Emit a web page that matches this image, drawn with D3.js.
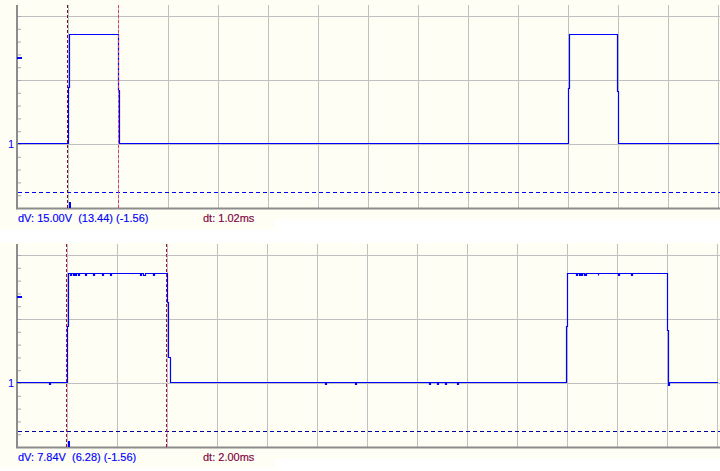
<!DOCTYPE html>
<html>
<head>
<meta charset="utf-8">
<script src="https://cdn.jsdelivr.net/npm/d3@7"></script>
<style>
  body { margin: 0; background: #ffffff; }
  svg { display: block; font-family: "Liberation Sans", Arial, sans-serif; }
  .grid line { stroke: #c0c0c0; }
  .grid path { display: none; }
  .minor line { stroke: #a8a8a8; }
  .minor path { display: none; }
  text.readout { white-space: pre; }
</style>
</head>
<body>
<script>
// time in ms, level in volts
var msPerDiv = 1;
var voltsPerDiv = 2.06;
var spanDivs = 14;

// channel 1 trace, top panel (breakpoints)
var trace1 = [[0, 0.03], [1.00, 0.03], [1.00, 1.83], [1.02, 1.83], [1.02, 3.54],
  [2.00, 3.54], [2.00, 1.74], [2.02, 1.74], [2.02, 0.03],
  [11.00, 0.03], [11.00, 1.80], [11.02, 1.80], [11.02, 3.54],
  [11.98, 3.54], [11.98, 1.72], [12.00, 1.72], [12.00, 0.03], [14.00, 0.03]];

// channel 1 trace, bottom panel (breakpoints)
var trace2 = [[0, 0.03], [1.00, 0.03], [1.00, 1.83], [1.02, 1.83], [1.02, 3.54],
  [3.00, 3.54], [3.00, 2.62], [3.02, 2.62], [3.02, 0.85], [3.06, 0.85], [3.06, 0.03],
  [10.98, 0.03], [10.98, 1.83], [11.00, 1.83], [11.00, 3.54],
  [13.00, 3.54], [13.00, 1.71], [13.02, 1.71], [13.02, -0.06], [13.04, -0.06], [13.04, 0.03], [14.00, 0.03]];

// small glitches on the bottom trace (time in ms)
var dips2 = [0.64, 1.06, 1.11, 1.16, 1.21, 1.35, 1.51, 1.69, 1.86, 2.46, 2.53, 2.71,
  6.16, 6.76, 8.24, 8.40, 8.56, 8.80,
  11.18, 11.23, 11.27, 11.33, 11.37, 11.61, 12.01, 12.29];
var dipDepth = 0.05;

// cursors
var timeCursors = [[0.98, 2.00], [0.98, 2.98]];
var levelCursors = [[13.44, -1.56], [6.28, -1.56]];
var trigTime = [1.02, 1.02];
var trigLevel = [2.77, 2.77];
var dVvalues = [15.00, 7.84];
var dtValues = [1.02, 2.00];
var channelLabel = "1";

var W = 720, H = 471;
var ivory = "#fefef4";

var svg = d3.select("body").append("svg")
  .attr("width", W)
  .attr("height", H);

// panel layout
var panels = [
  { top: 5, zeroY: 144, bottom: 208, left: 18, trace: trace1, dips: [],
    cur1: "#7a0a2a", cur2: "#d04070", hline: "#0000ff" },
  { top: 244, zeroY: 383, bottom: 447, left: 17, trace: trace2, dips: dips2,
    cur1: "#a0104a", cur2: "#a0104a", hline: "#0000a0" }
];

// insert little notches where the trace glitches
function withDips(trace, dips) {
  var out = [];
  trace.forEach(function (p, i) {
    out.push(p);
    var n = trace[i + 1];
    if (!n || n[1] !== p[1] || n[0] === p[0]) return;
    dips.filter(function (t) { return t > p[0] && t < n[0]; }).forEach(function (t) {
      var down = p[1] - dipDepth;
      out.push([t, p[1]], [t, down], [t + 0.02, down], [t + 0.02, p[1]]);
    });
  });
  return out;
}

panels.forEach(function (p, i) {
  var g = svg.append("g");

  // backgrounds
  g.append("rect")
    .attr("x", 0).attr("y", i === 0 ? 0 : p.top - 1)
    .attr("width", W).attr("height", p.bottom - (i === 0 ? 0 : p.top - 1) + 12)
    .attr("fill", ivory);
  g.append("rect")
    .attr("x", 0).attr("y", p.bottom + 12)
    .attr("width", 275).attr("height", 9)
    .attr("fill", ivory);

  var x = d3.scaleLinear().domain([0, spanDivs * msPerDiv]).range([p.left, p.left + spanDivs * 50]);
  var y = d3.scaleLinear().domain([0, voltsPerDiv]).range([p.zeroY, p.zeroY - 64]);
  var vMin = y.invert(p.bottom), vMax = y.invert(p.top);

  // vertical grid
  var gridT = d3.range(1, spanDivs + 1).map(function (k) { return k * msPerDiv; });
  g.append("g")
    .attr("class", "grid")
    .attr("transform", "translate(0," + p.top + ")")
    .call(d3.axisBottom(x).tickValues(gridT).tickSize(p.bottom - p.top).tickFormat(""));

  // horizontal grid
  var gridV = [-1, 0, 1, 2].map(function (k) { return k * voltsPerDiv; })
    .filter(function (v) { return v > vMin && v < vMax; });
  g.append("g")
    .attr("class", "grid")
    .attr("transform", "translate(" + W + ",0)")
    .call(d3.axisLeft(y).tickValues(gridV).tickSize(W - p.left).tickFormat(""));

  // minor ticks on the left edge
  var minorV = d3.range(-10, 20).map(function (k) { return k * voltsPerDiv / 5; })
    .filter(function (v) { return v > vMin && v < vMax; });
  g.append("g")
    .attr("class", "minor")
    .attr("transform", "translate(17,0)")
    .call(d3.axisRight(y).tickValues(minorV).tickSize(4).tickFormat(""));

  // axes frame
  g.append("line")
    .attr("x1", 17).attr("x2", 17)
    .attr("y1", p.top).attr("y2", p.bottom + 1)
    .attr("stroke", "#8c8c8c").attr("stroke-width", 2);
  g.append("line")
    .attr("x1", 16).attr("x2", W)
    .attr("y1", p.bottom + 0.5).attr("y2", p.bottom + 0.5)
    .attr("stroke", "#8c8c8c").attr("stroke-width", 2);

  // level cursor (only the lower one is on screen)
  levelCursors[i].filter(function (v) { return v > vMin && v < vMax; }).forEach(function (v) {
    g.append("line")
      .attr("x1", 18).attr("x2", W)
      .attr("y1", Math.round(y(v)) + 0.5).attr("y2", Math.round(y(v)) + 0.5)
      .attr("stroke", p.hline)
      .attr("stroke-dasharray", "4,3");
  });

  // trace, snapped to pixel centres
  var line = d3.line()
    .x(function (d) { return Math.round(x(d[0])) + 0.5; })
    .y(function (d) { return Math.round(y(d[1])) + 0.5; });
  g.append("path")
    .datum(withDips(p.trace, p.dips))
    .attr("d", line)
    .attr("fill", "none")
    .attr("stroke", "#0000ff")
    .attr("stroke-width", 1.2)
    .attr("stroke-linecap", "square");

  // time cursors
  timeCursors[i].forEach(function (t, k) {
    g.append("line")
      .attr("x1", Math.round(x(t)) + 0.5).attr("x2", Math.round(x(t)) + 0.5)
      .attr("y1", p.top).attr("y2", p.bottom)
      .attr("stroke", k === 0 ? p.cur1 : p.cur2)
      .attr("stroke-dasharray", "3,2");
  });

  // trigger markers
  g.append("rect")
    .attr("x", 17).attr("y", Math.round(y(trigLevel[i])) - 1)
    .attr("width", 5).attr("height", 2)
    .attr("fill", "#0000ff");
  g.append("rect")
    .attr("x", Math.round(x(trigTime[i]))).attr("y", p.bottom - 6)
    .attr("width", 2).attr("height", 6)
    .attr("fill", "#0000ff");

  // channel label
  g.append("text")
    .attr("x", 8).attr("y", y(0) + 3.5)
    .attr("font-size", 11)
    .attr("fill", "#0000ff")
    .text(channelLabel);

  // readouts
  var lv = levelCursors[i];
  g.append("text")
    .attr("class", "readout")
    .attr("x", 18).attr("y", p.bottom + 13.5)
    .attr("font-size", 11)
    .attr("fill", "#0000ff")
    .attr("stroke", "#0000ff").attr("stroke-width", 0.15)
    .text("dV: " + dVvalues[i].toFixed(2) + "V  (" + lv[0].toFixed(2) + ") (" + lv[1].toFixed(2) + ")");
  g.append("text")
    .attr("x", 203).attr("y", p.bottom + 13.5)
    .attr("font-size", 11)
    .attr("fill", "#800040")
    .attr("stroke", "#800040").attr("stroke-width", 0.15)
    .text("dt: " + dtValues[i].toFixed(2) + "ms");
});
</script>
</body>
</html>
